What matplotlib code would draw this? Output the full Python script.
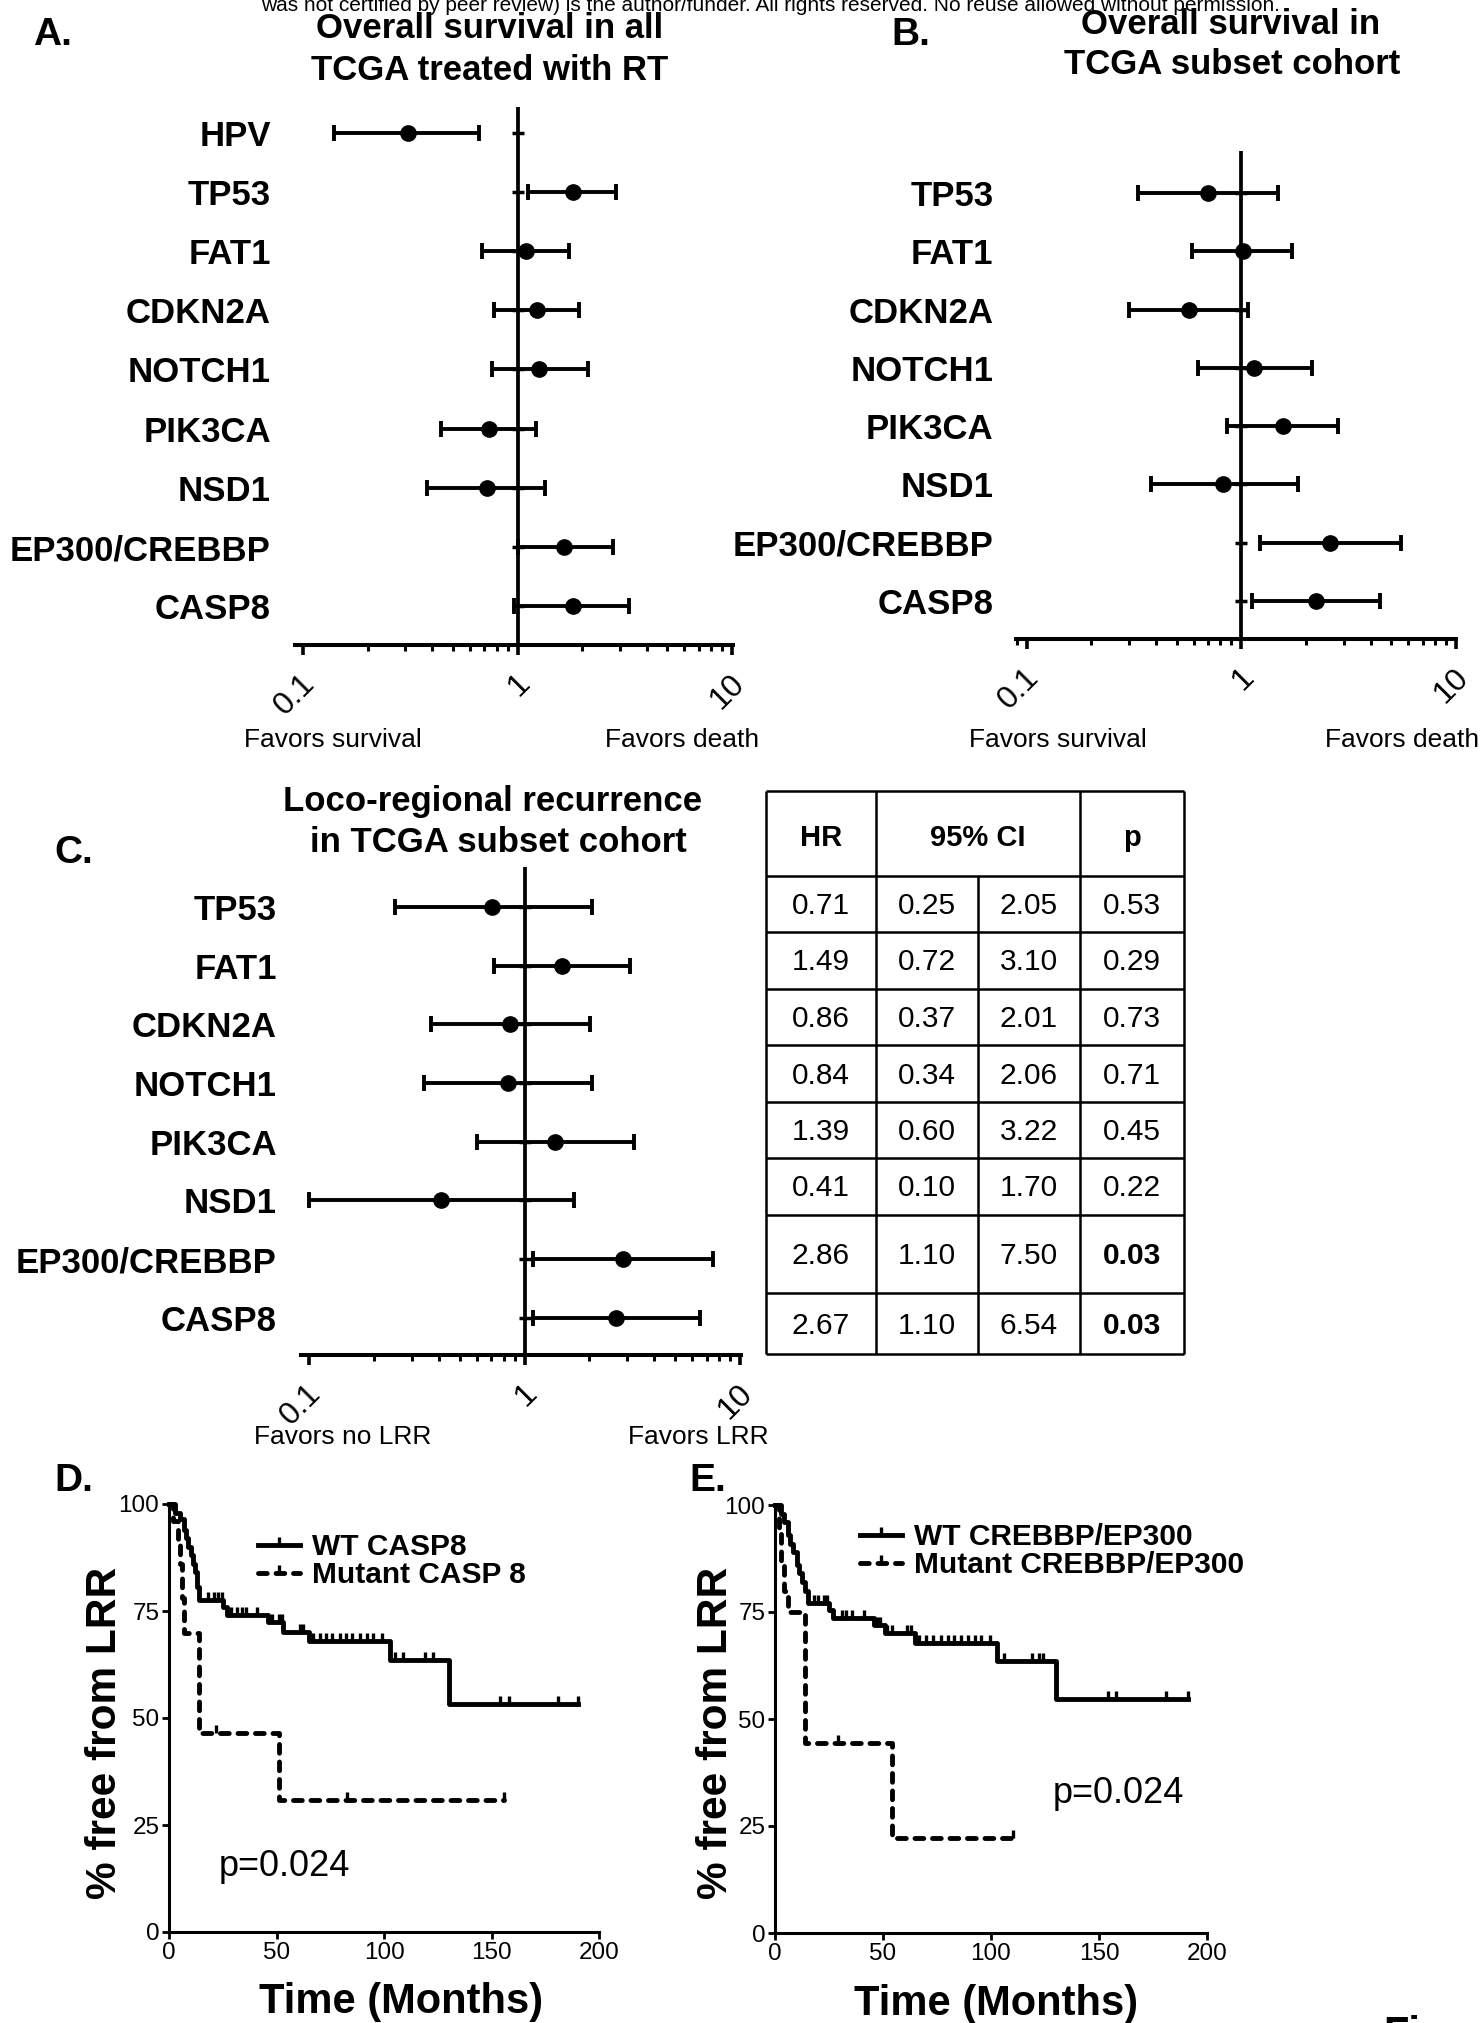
import matplotlib
matplotlib.use('Agg')
import matplotlib.pyplot as plt
import numpy as np
from matplotlib.lines import Line2D
from matplotlib.transforms import offset_copy
from matplotlib.ticker import NullFormatter

plt.rcParams['font.family'] = ['Liberation Sans', 'DejaVu Sans']

W, H = 1481, 2023

# A. overall survival, all TCGA treated with RT
genes_a = ['HPV', 'TP53', 'FAT1', 'CDKN2A', 'NOTCH1', 'PIK3CA', 'NSD1', 'EP300/CREBBP', 'CASP8']
hr_a = [0.31, 1.82, 1.09, 1.23, 1.26, 0.74, 0.72, 1.65, 1.81]
lo_a = [0.14, 1.12, 0.68, 0.78, 0.76, 0.44, 0.38, 1.01, 0.96]
hi_a = [0.66, 2.89, 1.74, 1.93, 2.12, 1.22, 1.34, 2.79, 3.31]

# B. overall survival, subset cohort
genes_bc = ['TP53', 'FAT1', 'CDKN2A', 'NOTCH1', 'PIK3CA', 'NSD1', 'EP300/CREBBP', 'CASP8']
hr_b = [0.70, 1.02, 0.57, 1.15, 1.56, 0.82, 2.59, 2.22]
lo_b = [0.33, 0.59, 0.30, 0.63, 0.86, 0.38, 1.22, 1.12]
hi_b = [1.48, 1.73, 1.07, 2.14, 2.83, 1.84, 5.54, 4.41]

# C. loco-regional recurrence (also the table)
hr_c = [0.71, 1.49, 0.86, 0.84, 1.39, 0.41, 2.86, 2.67]
lo_c = [0.25, 0.72, 0.37, 0.34, 0.60, 0.10, 1.10, 1.10]
hi_c = [2.05, 3.10, 2.01, 2.06, 3.22, 1.70, 7.50, 6.54]
p_c = [0.53, 0.29, 0.73, 0.71, 0.45, 0.22, 0.03, 0.03]

# D. KM, CASP8
d_wt_t = [0, 3, 5, 7, 8, 9, 10, 11, 12, 13, 14, 25, 27, 46, 53, 65, 103, 130, 190]
d_wt_s = [100, 98, 96.5, 94, 92, 90, 88, 86, 84, 80.5, 77.6, 76, 74, 72.5, 70.2, 67.9, 63.6, 53.2, 53.2]
d_wt_cens = [18, 21, 23, 24.5, 29, 31.5, 34, 36, 41, 48, 51, 52.5, 61, 62.5, 67, 70, 73, 76,
             79.5, 82.5, 85, 89, 92, 95, 99, 105, 109, 119, 123, 154, 158, 181, 190]
d_mut_t = [0, 2, 4, 5, 6, 7, 14, 51, 156]
d_mut_s = [100, 96, 91, 86, 78, 69.8, 46.5, 30.8, 30.8]
d_mut_cens = [22, 83, 156]

# E. KM, CREBBP/EP300
e_wt_t = [0, 3, 4, 6, 7, 8.5, 10, 11, 12.5, 14, 15.5, 25, 27, 46, 51, 65, 103, 130, 191]
e_wt_s = [100, 98, 96, 93, 91, 89, 86, 84, 82, 80, 77.2, 75.5, 73.7, 72, 70, 67.8, 63.5, 54.6, 54.6]
e_wt_cens = [18, 20, 22.5, 24, 31, 33, 35.5, 41, 47, 48.5, 52, 54, 61, 63, 66.5, 70, 73, 77,
             80, 83, 86, 89.5, 92.5, 95.5, 99.5, 106, 119, 122, 124, 154, 158, 181, 191]
e_mut_t = [0, 2, 3, 4, 6, 14, 54, 110]
e_mut_s = [100, 94, 87, 80, 75, 44.5, 22.3, 22.3]
e_mut_cens = [29, 110]

fig = plt.figure(figsize=(W / 100, H / 100), dpi=100)


def px_axes(x0, y0, x1, y1):
    return fig.add_axes([x0 / W, 1 - y1 / H, (x1 - x0) / W, (y1 - y0) / H])


def ftext(x, y, s, **kw):
    fig.text(x / W, 1 - y / H, s, **kw)


def forest(box, genes, hr, lo, hi, ylim, xlim, pad):
    ax = px_axes(*box)
    hr, lo, hi = np.asarray(hr), np.asarray(lo), np.asarray(hi)
    y = np.arange(len(genes))
    ax.axvline(1, color='black', lw=2.7, zorder=1)
    ax.plot(np.ones(len(y)), y, ls='none', marker='_', ms=8, mew=2.5, color='black')
    ax.errorbar(hr, y, xerr=[hr - lo, hi - hr], fmt='o', color='black', ms=11,
                elinewidth=2.8, capsize=5.8, capthick=2.8, zorder=3)
    ax.set_xscale('log')
    ax.set_xlim(*xlim)
    ax.set_ylim(*ylim)
    for s in ['left', 'top', 'right']:
        ax.spines[s].set_visible(False)
    ax.spines['bottom'].set_linewidth(2.9)
    ax.set_yticks(y)
    ax.set_yticklabels(genes, fontsize=25, fontweight='bold')
    ax.tick_params(axis='y', length=0, pad=pad)
    ax.set_xticks([0.1, 1, 10])
    ax.set_xticklabels([])
    ax.xaxis.set_minor_formatter(NullFormatter())
    ax.tick_params(axis='x', which='major', length=7, width=2.6)
    ax.tick_params(axis='x', which='minor', length=4, width=2.2)
    tr = offset_copy(ax.get_xaxis_transform(), fig=fig, x=-2, y=-17, units='points')
    for v, lab in zip([0.1, 1, 10], ['0.1', '1', '10']):
        ax.text(v, 0, lab, transform=tr, rotation=45, ha='right', va='top',
                rotation_mode='anchor', fontsize=23)
    return ax


forest((295, 107, 733, 645), genes_a, hr_a, lo_a, hi_a, (8.654, -0.434), (0.0918, 10.1), 17.3)
forest((1016, 151, 1456, 639), genes_bc, hr_b, lo_b, hi_b, (7.65, -0.72), (0.0893, 10.0), 16.2)
forest((301, 867, 741, 1355), genes_bc, hr_c, lo_c, hi_c, (7.632, -0.681), (0.0918, 10.1), 17.3)

# titles and annotations
ftext(771, 11, 'was not certified by peer review) is the author/funder. All rights reserved. '
      'No reuse allowed without permission.', ha='center', va='baseline', fontsize=15)
ftext(52, 35, 'A.', ha='center', va='center', fontsize=28, fontweight='bold')
ftext(911, 35, 'B.', ha='center', va='center', fontsize=28, fontweight='bold')
ftext(74, 853, 'C.', ha='center', va='center', fontsize=28, fontweight='bold')
ftext(74, 1481, 'D.', ha='center', va='center', fontsize=28, fontweight='bold')
ftext(708, 1481, 'E.', ha='center', va='center', fontsize=28, fontweight='bold')

ftext(490, 29, 'Overall survival in all', ha='center', va='center', fontsize=25, fontweight='bold')
ftext(490, 71, 'TCGA treated with RT', ha='center', va='center', fontsize=25, fontweight='bold')
ftext(1231, 24, 'Overall survival in', ha='center', va='center', fontsize=25, fontweight='bold')
ftext(1232, 65, 'TCGA subset cohort', ha='center', va='center', fontsize=25, fontweight='bold')
ftext(493, 802, 'Loco-regional recurrence', ha='center', va='center', fontsize=25, fontweight='bold')
ftext(498, 842, 'in TCGA subset cohort', ha='center', va='center', fontsize=25, fontweight='bold')

ftext(333, 740, 'Favors survival', ha='center', va='center', fontsize=19)
ftext(682, 740, 'Favors death', ha='center', va='center', fontsize=19)
ftext(1058, 740, 'Favors survival', ha='center', va='center', fontsize=19)
ftext(1402, 740, 'Favors death', ha='center', va='center', fontsize=19)
ftext(343, 1437, 'Favors no LRR', ha='center', va='center', fontsize=19)
ftext(698, 1437, 'Favors LRR', ha='center', va='center', fontsize=19)

# table for panel C
tab = px_axes(766, 791, 1184, 1354)
tab.set_xlim(0, 418)
tab.set_ylim(563, 0)
tab.axis('off')
col_edges = [0, 110, 212, 314, 418]
row_edges = [0, 85, 141, 198, 254, 311, 367, 424, 502, 563]
tab.hlines(row_edges, 0, 418, color='black', lw=1.8, clip_on=False)
tab.vlines([0, 110, 314, 418], 0, 563, color='black', lw=1.8, clip_on=False)
tab.vlines(212, 85, 563, color='black', lw=1.8, clip_on=False)
hy = row_edges[1] / 2 + 4
tab.text(55, hy, 'HR', ha='center', va='center', fontsize=21, fontweight='bold')
tab.text(212, hy, '95% CI', ha='center', va='center', fontsize=21, fontweight='bold')
tab.text(366, hy, 'p', ha='center', va='center', fontsize=21, fontweight='bold')
for i in range(len(hr_c)):
    yc = (row_edges[i + 1] + row_edges[i + 2]) / 2 + 2
    vals = [hr_c[i], lo_c[i], hi_c[i], p_c[i]]
    for j, v in enumerate(vals):
        xc = (col_edges[j] + col_edges[j + 1]) / 2
        bold = (j == 3 and v < 0.05)
        tab.text(xc, yc, f'{v:.2f}', ha='center', va='center', fontsize=21.5,
                 fontweight='bold' if bold else 'normal')

# KM panels
tick = [(0, 0), (0, 1)]
dash = (0, (1.8, 1.8))


def km(box, wt, mut, labels, leg_xy, ptxt_xy):
    ax = px_axes(*box)
    for (t, s, cens), ls in zip([wt, mut], ['-', dash]):
        ax.step(t, s, where='post', color='black', lw=3.5, ls=ls,
                dash_capstyle='round', clip_on=False)
        s = np.asarray(s)
        idx = np.searchsorted(t, cens, side='right') - 1
        ax.plot(cens, s[idx], ls='none', marker=tick, ms=12, mew=2.4,
                color='black', clip_on=False)
    ax.set_xlim(0, 200)
    ax.set_ylim(0, 100)
    for s in ['top', 'right']:
        ax.spines[s].set_visible(False)
    for s in ['left', 'bottom']:
        ax.spines[s].set_linewidth(2.2)
    ax.set_xticks([0, 50, 100, 150, 200])
    ax.set_yticks([0, 25, 50, 75, 100])
    ax.tick_params(length=5, width=2, labelsize=17.5, pad=2)
    handles = [Line2D([0], [0], color='black', lw=3.5, marker=tick, ms=12, mew=2.4),
               Line2D([0], [0], color='black', lw=3.5, ls=dash, dash_capstyle='round',
                      marker=tick, ms=12, mew=2.4)]
    ax.legend(handles, labels, loc='upper left',
              bbox_to_anchor=(leg_xy[0] / W, 1 - leg_xy[1] / H), bbox_transform=fig.transFigure,
              frameon=False, borderpad=0, borderaxespad=0, handlelength=1.4,
              handletextpad=0.4, labelspacing=0.0, numpoints=1,
              prop=dict(weight='bold', size=21.5))
    ax.text(ptxt_xy[0], ptxt_xy[1], 'p=0.024', ha='center', va='center', fontsize=26)
    return ax


km((169, 1504, 599, 1932), (d_wt_t, d_wt_s, d_wt_cens), (d_mut_t, d_mut_s, d_mut_cens),
   ['WT CASP8', 'Mutant CASP 8'], (258, 1533), (53.5, 15.2))
km((775, 1505, 1207, 1933), (e_wt_t, e_wt_s, e_wt_cens), (e_mut_t, e_mut_s, e_mut_cens),
   ['WT CREBBP/EP300', 'Mutant CREBBP/EP300'], (860, 1523), (158.8, 32.7))

ftext(105, 1733, '% free from LRR', rotation=90, ha='center', va='center', fontsize=30.5, fontweight='bold')
ftext(716, 1733, '% free from LRR', rotation=90, ha='center', va='center', fontsize=30.5, fontweight='bold')
ftext(401, 2002, 'Time (Months)', ha='center', va='center', fontsize=30, fontweight='bold')
ftext(996, 2004, 'Time (Months)', ha='center', va='center', fontsize=30, fontweight='bold')
ftext(1383, 2015, 'Figure', ha='left', va='top', fontsize=30, fontweight='bold')

fig.savefig('out.png', dpi=100)
